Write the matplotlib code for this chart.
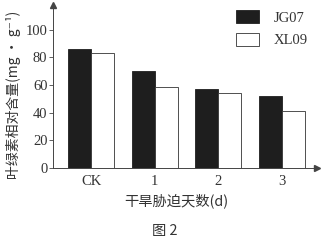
import matplotlib
matplotlib.use("Agg")
import matplotlib.pyplot as plt
import numpy as np
from matplotlib.patches import Patch

categories = ["CK", "1", "2", "3"]
jg07 = [86, 70, 57, 52]
xl09 = [83, 59, 54, 41]
yticks = [0, 20, 40, 60, 80, 100]

txt = "#333333"
serif = ["Liberation Serif", "DejaVu Serif"]
cjk = ["Noto Sans CJK SC", "DejaVu Sans"]

fig = plt.figure(figsize=(3.25, 2.41), dpi=100)
fig.patch.set_facecolor("white")
ax = fig.add_axes([53/325, 1-168/241, (317-53)/325, 163/241])

x = np.arange(len(categories))
w = 0.36
ax.bar(x - w/2, jg07, w, color="#1e1e1e", edgecolor="#1e1e1e", linewidth=0.6)
ax.bar(x + w/2, xl09, w, color="white", edgecolor="#333333", linewidth=0.6)

ax.set_xlim(-0.597, 3.55)
ax.set_ylim(0, 118)
ax.set_yticks(yticks)
ax.set_yticklabels([str(v) for v in yticks], fontfamily=serif, fontsize=10.5, color=txt)
ax.set_xticks(x)
ax.set_xticklabels(categories, fontfamily=serif, fontsize=10.5, color=txt)
ax.tick_params(axis="x", length=0, pad=5)
ax.tick_params(axis="y", length=3, width=0.6, color="#444444", pad=1)
for s in ["top", "right"]:
    ax.spines[s].set_visible(False)
for s in ["left", "bottom"]:
    ax.spines[s].set_color("#444444")
    ax.spines[s].set_linewidth(0.7)
ax.plot([0], [1], marker="^", markersize=4, color="#444444", transform=ax.transAxes, clip_on=False)
ax.plot([1], [0], marker=">", markersize=4, color="#444444", transform=ax.transAxes, clip_on=False)

fig.text(14/325, 1-95/241, "叶绿素相对含量(mg · g⁻¹)", rotation=90, ha="center", va="center",
         fontfamily=cjk, fontsize=10, color=txt)
fig.text(176/325, 1-201/241, "干旱胁迫天数(d)", ha="center", va="center",
         fontfamily=cjk, fontsize=10.3, color=txt)
fig.text(165/325, 1-231/241, "图 2", ha="center", va="center",
         fontfamily=cjk, fontsize=10.3, color=txt)

handles = [Patch(facecolor="#1e1e1e", edgecolor="#1e1e1e", linewidth=0.6),
           Patch(facecolor="white", edgecolor="#333333", linewidth=0.6)]
leg = fig.legend(handles, ["JG07", "XL09"], loc="upper left",
                 bbox_to_anchor=(236/325, 1-10/241), frameon=False,
                 borderpad=0, borderaxespad=0, handlelength=1.6, handleheight=1.0,
                 handletextpad=1.0, labelspacing=0.55,
                 prop={"family": serif, "size": 10.5})
for t in leg.get_texts():
    t.set_color(txt)

fig.savefig("out.png", dpi=100)
